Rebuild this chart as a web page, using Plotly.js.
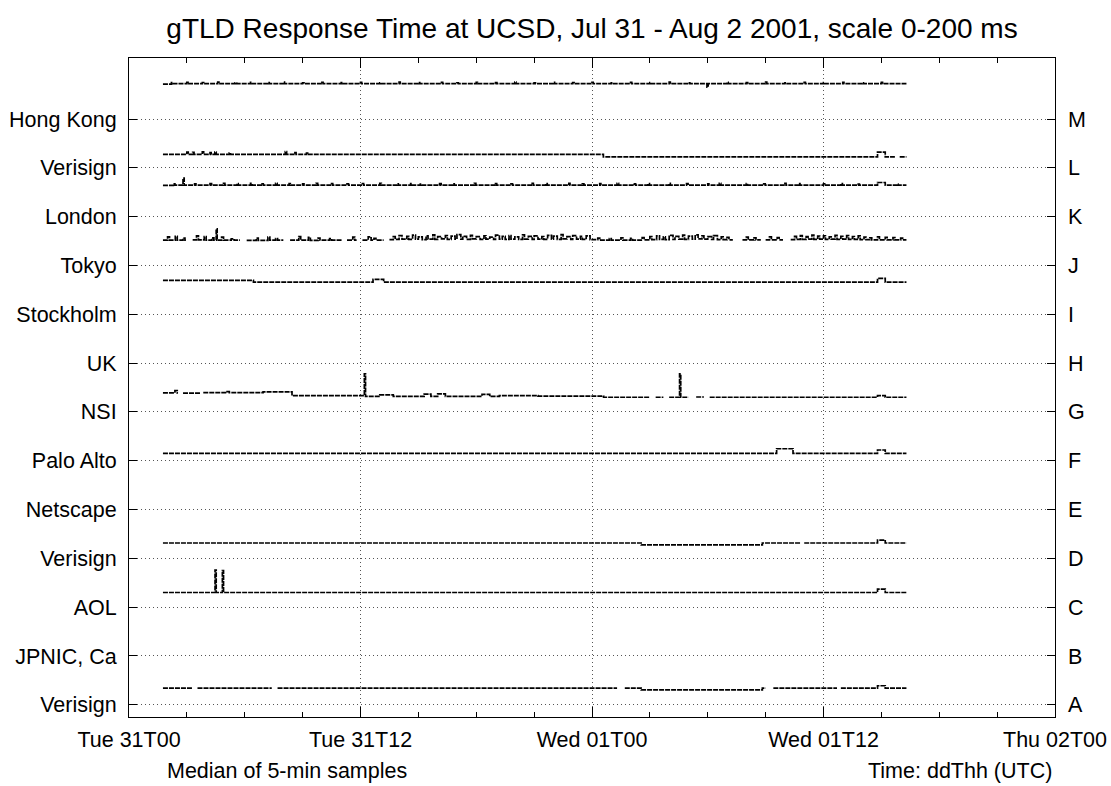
<!DOCTYPE html>
<html>
<head>
<meta charset="utf-8">
<script src="https://cdn.plot.ly/plotly-3.0.1.min.js"></script>
<style>
  html, body { margin: 0; padding: 0; background: #fff; }
  #chart { width: 1111px; height: 786px; }
</style>
</head>
<body>
<div id="chart"></div>
<script>
// ---------------- DATA ----------------
const chartTitle = 'gTLD Response Time at UCSD, Jul 31 - Aug 2 2001, scale 0-200 ms';
const noteLeft = 'Median of 5-min samples';
const noteRight = 'Time: ddThh (UTC)';

// rows (one 0-200 ms band per server)
const rowIndex = [0, 1, 2, 3, 4, 5, 6, 7, 8, 9, 10, 11, 12];
const leftLabels = ['Verisign', 'JPNIC, Ca', 'AOL', 'Verisign', 'Netscape', 'Palo Alto', 'NSI',
                    'UK', 'Stockholm', 'Tokyo', 'London', 'Verisign', 'Hong Kong'];
const rightLabels = ['A', 'B', 'C', 'D', 'E', 'F', 'G', 'H', 'I', 'J', 'K', 'L', 'M'];

// time in hours after Tue Jul 31 2001 00:00 UTC, median response time in ms (null = no data)
const hoursA = [1.76, 3.3, 3.31, 3.55, 7.4, 7.41, 7.7, 25.3, 25.31, 25.7, 26.55, 32.83, 33.0, 33.01, 33.4, 36.7, 36.71, 36.9, 38.8, 39.2, 40.3];
const msA    = [68,   68,  null, 68,   68,  null, 68,  68,   null,  68,   61,    68,    68,   null,  68,   68,   null,  68,   78,   68,   68];

const hoursC = [1.76, 4.46, 4.52, 4.84, 4.9, 38.8, 39.2, 40.3];
const msC    = [60,   152,  60,   150,  60,  74,   60,   60];

const hoursD = [1.76, 26.55, 32.83, 34.8, 34.81, 35.0, 38.8, 39.2, 40.3];
const msD    = [63,   55,    63,    63,   null,  63,   75,   63,   63];

const hoursF = [1.76, 33.57, 34.42, 38.8, 39.2, 40.3];
const msF    = [30,   49,    30,    44,   30,   30];

const hoursG = [1.76, 2.38, 2.5, 2.54, 2.55, 2.8, 3.68, 3.69, 3.85, 5.0, 5.2, 6.95, 8.45, 12.2, 12.26, 13.0, 13.7, 15.3, 15.65, 16.0, 16.4, 18.3, 18.7, 19.2, 21.2, 24.6, 27.0, 27.01, 27.3, 27.7, 27.71, 28.0, 28.54, 28.6, 29.0, 29.01, 29.4, 29.8, 29.81, 30.1, 38.8, 39.2, 40.3];
const msG    = [78,   87,   78,  78,   null, 77,  77,   null, 79,   83,  79,  82,   67,   156,  64,    70,   64,   73,   64,    74,   64,   72,   64,   67,   65,   60,   60,   null,  60,   60,   null,  60,   156,   60,   60,   null,  61,   61,   null,  60,   67,   60,   60];

const hoursI = [1.76, 6.45, 12.65, 13.2, 38.8, 39.2, 40.3];
const msI    = [139,  132,  143,   132,  147,  132,  132];

const hoursJ = [1.76, 2.0, 2.1, 2.4, 2.5, 2.8, 2.9, 2.95, 2.96,
  3.3, 3.5, 3.6, 3.9, 4.0, 4.3, 4.4, 4.52, 4.57, 4.8, 4.9, 5.3, 5.45, 5.75, 5.76,
  6.1, 6.6, 6.7, 7.2, 7.3, 7.6, 7.7, 8.0, 8.01,
  8.35, 8.8, 8.9, 9.3, 9.4, 9.8, 9.9, 10.4, 10.5, 11.05, 11.06,
  11.3, 11.6, 11.7, 11.8, 11.81,
  12.1, 12.4, 12.55, 12.7, 12.8, 13.2, 13.21,
  13.5, 13.7, 13.8, 14.0, 14.15, 14.4, 14.5, 14.7, 14.85, 15.0, 15.2, 15.4, 15.5, 15.75, 15.85, 16.0, 16.2, 16.4, 16.5, 16.7, 16.9, 17.0, 17.2, 17.3, 17.5, 17.7, 17.8, 18.0, 18.2, 18.4, 18.5, 18.7, 18.9, 19.0, 19.2, 19.35, 19.5, 19.7, 19.8, 20.0, 20.2, 20.4, 20.5, 20.7, 20.9, 21.0, 21.2, 21.4, 21.5, 21.7, 21.9, 22.0, 22.2, 22.4, 22.5, 22.7, 22.9, 23.0, 23.2, 23.4, 23.5, 23.7, 23.9,
  24.3, 24.4, 24.9, 25.0, 25.5, 25.6, 26.0, 26.1, 26.6, 26.7,
  27.0, 27.1, 27.35, 27.5, 27.7, 27.8, 28.0, 28.2, 28.3, 28.5, 28.7, 28.8, 29.0, 29.2, 29.35, 29.5, 29.7, 29.8, 30.0, 30.2, 30.3, 30.5, 30.7, 30.8, 31.0, 31.1, 31.3, 31.31,
  31.8, 32.0, 32.1, 32.4, 32.5, 32.75, 32.76,
  33.0, 33.2, 33.3, 33.6, 33.7, 33.9, 33.91,
  34.3, 34.5, 34.6, 34.8, 34.9, 35.1, 35.2, 35.4, 35.5, 35.7, 35.8, 36.0, 36.1, 36.3, 36.4, 36.6, 36.7, 36.9, 37.0, 37.2, 37.3, 37.5, 37.6, 37.8, 37.9, 38.1, 38.2, 38.4, 38.5, 38.8, 38.9, 39.2, 39.3, 39.6, 39.7, 40.0, 40.1, 40.3];
const msJ = [104, 117, 104, 119, 104, 112, 104, 104, null,
  105, 121, 105, 118, 104, 113, 104, 150, 104, 116, 104, 109, 104, 104, null,
  103, 112, 103, 116, 104, 110, 104, 104, null,
  104, 118, 104, 115, 103, 112, 104, 110, 104, 104, null,
  104, 116, 104, 104, null,
  104, 117, 104, 111, 104, 104, null,
  106, 118, 107, 122, 108, 119, 107, 124, 108, 117, 106, 121, 108, 125, 107, 118, 109, 122, 107, 120, 108, 126, 108, 119, 107, 123, 109, 118, 107, 121, 108, 116, 107, 124, 108, 119, 107, 122, 108, 117, 107, 125, 108, 119, 107, 121, 108, 118, 107, 123, 108, 120, 107, 126, 109, 118, 107, 122, 108, 119, 107, 121, 106,
  112, 104, 110, 104, 113, 104, 111, 104, 114, 105,
  118, 106, 121, 107, 117, 106, 123, 107, 119, 108, 124, 107, 120, 108, 125, 109, 121, 108, 118, 107, 122, 106, 117, 106, 115, 105, 105, null,
  105, 116, 105, 113, 105, 105, null,
  105, 117, 105, 114, 105, 105, null,
  106, 119, 107, 122, 107, 118, 108, 124, 107, 120, 108, 121, 107, 117, 108, 123, 107, 119, 108, 122, 107, 118, 107, 121, 106, 116, 106, 113, 105, 117, 105, 115, 105, 114, 105, 112, 105, 105];

const hoursK = [1.76, 2.3, 2.38, 2.8, 2.86, 3.4, 3.47, 4.2, 4.28, 4.9, 4.97, 5.6, 5.66, 6.3, 6.38, 6.9, 6.96, 7.6, 7.68, 8.3, 8.36, 9.0, 9.07, 9.7, 9.78, 10.5, 10.56, 11.3, 11.38, 12.1, 12.16, 13.0, 13.08, 13.9, 13.96, 14.6, 14.68, 15.1, 15.16, 16.1, 16.18, 16.8, 16.86, 17.9, 17.98, 19.0, 19.06, 19.8, 19.88, 20.9, 20.96, 21.6, 21.68, 22.8, 22.86, 23.5, 23.58, 24.4, 24.46, 25.3, 25.38, 26.2, 26.26, 26.9, 26.98, 28.0, 28.06, 28.9, 28.98, 30.0, 30.06, 30.6, 30.68, 32.0, 32.06, 32.9, 32.98, 34.0, 34.06, 34.7, 34.78, 36.0, 36.06, 36.9, 36.98, 37.8, 37.86, 38.8, 39.2, 39.8, 39.86, 40.3];
const msK    = [128, 134, 129, 158, 129, 134, 129, 135, 129, 136, 129, 135, 129, 136, 129, 134, 129, 136, 129, 135, 129, 134, 129, 136, 129, 135, 129, 134, 129, 135, 129, 136, 129, 134, 129, 135, 129, 133, 129, 135, 129, 134, 129, 136, 129, 135, 129, 134, 129, 136, 129, 135, 129, 136, 129, 134, 129, 135, 129, 136, 129, 134, 129, 135, 129, 136, 129, 135, 129, 134, 129, 136, 129, 135, 129, 134, 129, 136, 129, 135, 129, 134, 129, 135, 129, 133, 129, 140, 129, 133, 129, 129];

const hoursL = [1.76, 3.0, 3.07, 3.3, 3.37, 3.8, 3.87, 4.2, 4.26, 4.45, 4.52, 5.2, 5.26, 8.1, 8.17, 8.6, 8.66, 9.2, 9.26, 24.59, 38.8, 39.2, 39.7, 39.71, 39.95, 40.3];
const msL    = [55,   64,  55,   63,  55,   65,  55,   62,  55,   64,   55,   61,  55,   66,  55,   62,  55,   60,  55,   45,    64,   45,   45,   null,  45,    45];

const hoursM = [1.76, 2.2, 2.27, 3.0, 3.06, 3.8, 3.87, 4.6, 4.66, 5.5, 5.57, 6.3, 6.36, 7.2, 7.27, 8.0, 8.06, 9.0, 9.07, 10.0, 10.06, 11.0, 11.07, 12.0, 12.06, 13.0, 13.07, 14.0, 14.06, 15.0, 15.07, 16.2, 16.26, 17.0, 17.07, 18.0, 18.06, 19.0, 19.07, 20.0, 20.06, 21.0, 21.07, 22.0, 22.06, 23.0, 23.07, 24.0, 24.06, 25.0, 25.07, 26.0, 26.06, 27.0, 27.07, 28.0, 28.06, 29.0, 29.07, 29.96, 30.02, 31.0, 31.06, 32.0, 32.07, 33.0, 33.06, 34.0, 34.07, 35.0, 35.06, 36.0, 36.07, 37.0, 37.06, 38.0, 38.07, 39.0, 39.06, 40.3];
const msM    = [143, 149, 145, 150, 145, 149, 145, 151, 145, 148, 145, 150, 145, 149, 145, 151, 145, 148, 145, 150, 145, 149, 145, 150, 145, 148, 145, 151, 145, 149, 145, 150, 145, 148, 145, 150, 145, 149, 145, 151, 145, 148, 145, 150, 145, 149, 145, 150, 145, 148, 145, 150, 145, 149, 145, 151, 145, 148, 145, 131, 145, 150, 145, 149, 145, 151, 145, 148, 145, 150, 145, 149, 145, 150, 145, 148, 145, 150, 145, 145];

const seriesList = [
  { name: 'A Verisign',   row: 0,  hours: hoursA, ms: msA },
  { name: 'C AOL',        row: 2,  hours: hoursC, ms: msC },
  { name: 'D Verisign',   row: 3,  hours: hoursD, ms: msD },
  { name: 'F Palo Alto',  row: 5,  hours: hoursF, ms: msF },
  { name: 'G NSI',        row: 6,  hours: hoursG, ms: msG },
  { name: 'I Stockholm',  row: 8,  hours: hoursI, ms: msI },
  { name: 'J Tokyo',      row: 9,  hours: hoursJ, ms: msJ },
  { name: 'K London',     row: 10, hours: hoursK, ms: msK },
  { name: 'L Verisign',   row: 11, hours: hoursL, ms: msL },
  { name: 'M Hong Kong',  row: 12, hours: hoursM, ms: msM }
];

// ---------------- DRAW ----------------
const T0 = Date.UTC(2001, 6, 31, 0, 0, 0);
const HOUR = 3600000;
const BAND_MS = 200;

const traces = seriesList.map(s => ({
  type: 'scatter',
  mode: 'lines',
  name: s.name,
  x: s.hours.map(h => T0 + h * HOUR),
  y: s.ms.map(m => (m === null ? null : s.row + m / BAND_MS)),
  connectgaps: false,
  line: { color: '#000', width: 1.7, shape: 'hv', dash: '5px,1px' },
  hoverinfo: 'skip',
  yaxis: s.row === 12 ? 'y2' : 'y'
}));

const FONT = '"Liberation Sans", Arial, Helvetica, sans-serif';
const yRange = [-0.25, 13.25];
const gridStyle = { gridcolor: '#555', griddash: '1px,3px', gridwidth: 1 };

const layout = {
  width: 1111,
  height: 786,
  margin: { l: 129, r: 56, t: 58, b: 69, pad: 0 },
  paper_bgcolor: '#fff',
  plot_bgcolor: '#fff',
  showlegend: false,
  font: { family: FONT, size: 21.5, color: '#000' },
  title: {
    text: chartTitle,
    x: 0.5, xref: 'paper', xanchor: 'center',
    y: 1 - 28 / 786, yref: 'container', yanchor: 'middle',
    font: { family: FONT, size: 28, color: '#000' }
  },
  xaxis: Object.assign({
    type: 'date',
    range: [T0, T0 + 48 * HOUR],
    tick0: T0,
    dtick: 12 * HOUR,
    tickformat: '%a %dT%H',
    ticks: 'inside', ticklen: 10, tickwidth: 1, tickcolor: '#000',
    showgrid: true,
    showline: true, linecolor: '#000', linewidth: 1, mirror: 'ticks',
    zeroline: false,
    ticklabelstandoff: 3,
    minor: { dtick: 3 * HOUR, tick0: T0, ticks: 'inside', ticklen: 5, tickwidth: 1, tickcolor: '#000', showgrid: false }
  }, gridStyle),
  yaxis: Object.assign({
    range: yRange,
    tickmode: 'array',
    tickvals: rowIndex,
    ticktext: leftLabels,
    ticks: 'inside', ticklen: 8, tickwidth: 1, tickcolor: '#000',
    showgrid: true,
    showline: true, linecolor: '#000', linewidth: 1, mirror: true,
    zeroline: false,
    ticklabelstandoff: 7
  }, gridStyle),
  yaxis2: {
    overlaying: 'y',
    side: 'right',
    range: yRange,
    tickmode: 'array',
    tickvals: rowIndex,
    ticktext: rightLabels,
    ticks: 'inside', ticklen: 8, tickwidth: 1, tickcolor: '#000',
    showgrid: false, showline: false, zeroline: false,
    ticklabelstandoff: 12
  },
  annotations: [
    { text: noteLeft, xref: 'paper', yref: 'paper', x: 0.171, y: -0.082, xanchor: 'center', yanchor: 'middle', showarrow: false, font: { family: FONT, size: 21.5, color: '#000' } },
    { text: noteRight, xref: 'paper', yref: 'paper', x: 0.999, y: -0.082, xanchor: 'right', yanchor: 'middle', showarrow: false, font: { family: FONT, size: 21.5, color: '#000' } }
  ]
};

Plotly.newPlot('chart', traces, layout, { staticPlot: true, displayModeBar: false });
</script>
</body>
</html>
